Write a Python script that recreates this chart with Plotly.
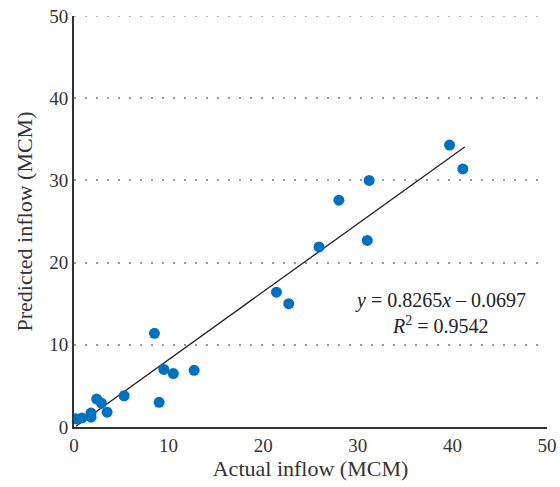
import plotly.graph_objects as go

actual = [0.2, 0.85, 1.8, 1.8, 2.4, 2.9, 3.5, 5.3, 8.5, 9.0, 9.5, 10.5, 12.7,
          21.4, 22.7, 25.9, 28.0, 31.2, 31.0, 39.7, 41.1]
predicted = [1.0, 1.1, 1.7, 1.2, 3.4, 2.9, 1.8, 3.8, 11.4, 3.0, 7.0, 6.5, 6.9,
             16.4, 15.0, 21.9, 27.6, 30.0, 22.7, 34.3, 31.4]
slope = 0.8265
intercept = -0.0697
r2 = 0.9542
ticks = [0, 10, 20, 30, 40, 50]

x_fit = [min(actual), max(actual) + 0.2]
y_fit = [slope * v + intercept for v in x_fit]

font = "Liberation Serif"
grid_color = "#999999"
grid_dash = "2px,9px"

fig = go.Figure()
fig.add_trace(go.Scatter(x=x_fit, y=y_fit, mode="lines",
                         line=dict(color="#222222", width=1.3),
                         hoverinfo="skip", showlegend=False))
fig.add_trace(go.Scatter(x=actual, y=predicted, mode="markers",
                         marker=dict(color="#0070C0", size=11),
                         showlegend=False))

fig.add_annotation(x=38.7, y=15.4, xref="x", yref="y",
                   text="<i>y</i> = 0.8265<i>x</i> – 0.0697",
                   showarrow=False, xanchor="center", yanchor="middle",
                   font=dict(family=font, size=20, color="#222222"))
fig.add_annotation(x=38.7, y=12.4, xref="x", yref="y",
                   text="<i>R</i><sup>2</sup> = %.4f" % r2,
                   showarrow=False, xanchor="center", yanchor="middle",
                   font=dict(family=font, size=20, color="#222222"))

# top gridline at the range edge (plotly omits it)
fig.add_shape(type="line", xref="paper", yref="y", x0=0, x1=1, y0=ticks[-1], y1=ticks[-1],
              line=dict(color=grid_color, width=1.5, dash=grid_dash), layer="below")

fig.update_layout(
    width=560, height=487,
    margin=dict(l=74, r=13, t=16, b=60),
    plot_bgcolor="white", paper_bgcolor="white",
    font=dict(family=font, size=19, color="#333333"),
)
fig.update_xaxes(range=[0, 50], tickvals=ticks, showgrid=False, zeroline=False,
                 showline=True, linecolor="#333333", linewidth=2,
                 ticks="", ticklen=0, automargin=False,
                 title=dict(text="Actual inflow (MCM)", font=dict(size=22), standoff=6),
                 tickfont=dict(size=19))
fig.update_yaxes(range=[0, 50], tickvals=ticks, showgrid=True,
                 gridcolor=grid_color, gridwidth=1.5, griddash=grid_dash,
                 zeroline=False, showline=True, linecolor="#333333", linewidth=2,
                 ticks="", ticklen=0, automargin=False,
                 title=dict(text="Predicted inflow (MCM)", font=dict(size=22), standoff=11),
                 tickfont=dict(size=19))

fig.write_html("out.html", config={"displayModeBar": False},
               post_script="document.body.style.margin='0px';")
